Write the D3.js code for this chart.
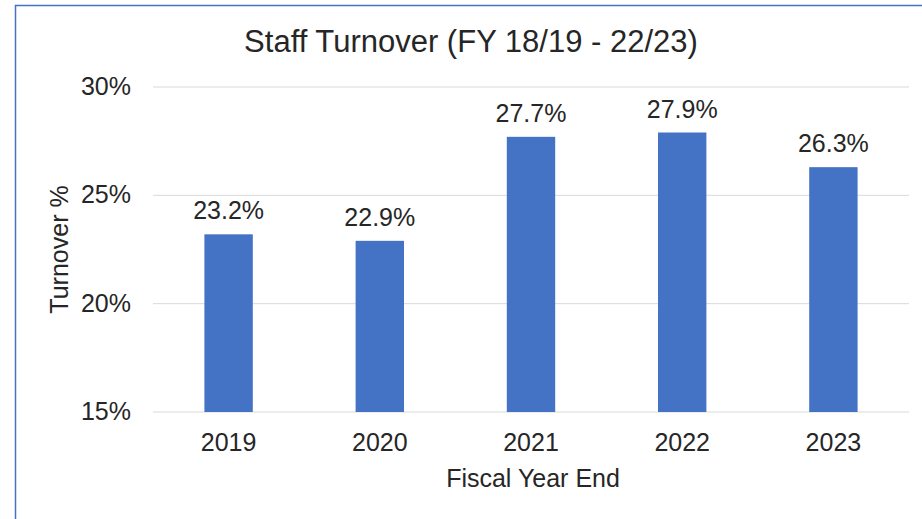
<!DOCTYPE html>
<html>
<head>
<meta charset="utf-8">
<script src="https://cdn.jsdelivr.net/npm/d3@7"></script>
<style>
  body { margin: 0; background: #fff; }
  svg { display: block; font-family: "Liberation Sans", Arial, sans-serif; }
</style>
</head>
<body>
<svg id="chart"></svg>
<script>
// *** Data ***
var years = ["2019", "2020", "2021", "2022", "2023"];
var turnover = [23.2, 22.9, 27.7, 27.9, 26.3];
var yTicks = [15, 20, 25, 30];

var svgWidth = 922, svgHeight = 519;
var margin = { top: 87, right: 13, bottom: 107, left: 153 };
var plotW = svgWidth - margin.left - margin.right;
var plotH = svgHeight - margin.top - margin.bottom;

var svg = d3.select("#chart")
    .attr("width", svgWidth)
    .attr("height", svgHeight);

// chart area border
svg.append("rect")
    .attr("x", 15.5).attr("y", 5.5)
    .attr("width", 1000).attr("height", 1000)
    .attr("fill", "none")
    .attr("stroke", "#4472C4")
    .attr("stroke-width", 1.5);

var g = svg.append("g")
    .attr("transform", "translate(" + margin.left + "," + margin.top + ")");

// *** Scales ***
var xScale = d3.scaleBand()
    .domain(years)
    .range([0, plotW])
    .paddingInner(0.68)
    .paddingOuter(0.34);

var yScale = d3.scaleLinear()
    .domain([15, 30])
    .range([plotH, 0]);

// gridlines
g.selectAll(".grid")
    .data(yTicks)
    .enter()
    .append("line")
    .attr("x1", 0).attr("x2", plotW)
    .attr("y1", function (d) { return yScale(d); })
    .attr("y2", function (d) { return yScale(d); })
    .attr("stroke", "#d9d9d9")
    .attr("stroke-width", 1);

// y axis (labels only)
var yAxis = d3.axisLeft(yScale)
    .tickValues(yTicks)
    .tickSize(0)
    .tickPadding(22)
    .tickFormat(function (d) { return d + "%"; });

var yg = g.append("g").call(yAxis);
yg.select(".domain").remove();
yg.selectAll("text")
    .attr("font-size", 25)
    .attr("font-family", "Liberation Sans, Arial, sans-serif")
    .attr("fill", "#262626")
    .attr("dy", "0.3em");

// bars
g.selectAll(".bar")
    .data(turnover)
    .enter()
    .append("rect")
    .attr("x", function (d, i) { return xScale(years[i]); })
    .attr("y", function (d) { return yScale(d); })
    .attr("width", xScale.bandwidth())
    .attr("height", function (d) { return plotH - yScale(d); })
    .attr("fill", "#4472C4");

// value labels
g.selectAll(".val")
    .data(turnover)
    .enter()
    .append("text")
    .attr("x", function (d, i) { return xScale(years[i]) + xScale.bandwidth() / 2; })
    .attr("y", function (d) { return yScale(d) - 15; })
    .attr("text-anchor", "middle")
    .attr("font-size", 25)
    .attr("fill", "#262626")
    .text(function (d) { return d.toFixed(1) + "%"; });

// x axis (labels only)
var xAxis = d3.axisBottom(xScale)
    .tickSize(0)
    .tickPadding(21);

var xg = g.append("g")
    .attr("transform", "translate(0," + plotH + ")")
    .call(xAxis);
xg.select(".domain").remove();
xg.selectAll("text")
    .attr("font-size", 25)
    .attr("font-family", "Liberation Sans, Arial, sans-serif")
    .attr("fill", "#262626");

// title
svg.append("text")
    .attr("x", 471)
    .attr("y", 52)
    .attr("text-anchor", "middle")
    .attr("font-size", 31)
    .attr("fill", "#262626")
    .text("Staff Turnover (FY 18/19 - 22/23)");

// axis titles
svg.append("text")
    .attr("x", margin.left + plotW / 2 + 2)
    .attr("y", 487)
    .attr("text-anchor", "middle")
    .attr("font-size", 25)
    .attr("fill", "#262626")
    .text("Fiscal Year End");

svg.append("text")
    .attr("transform", "translate(68," + (margin.top + plotH / 2) + ") rotate(-90)")
    .attr("text-anchor", "middle")
    .attr("font-size", 25)
    .attr("fill", "#262626")
    .text("Turnover %");
</script>
</body>
</html>
